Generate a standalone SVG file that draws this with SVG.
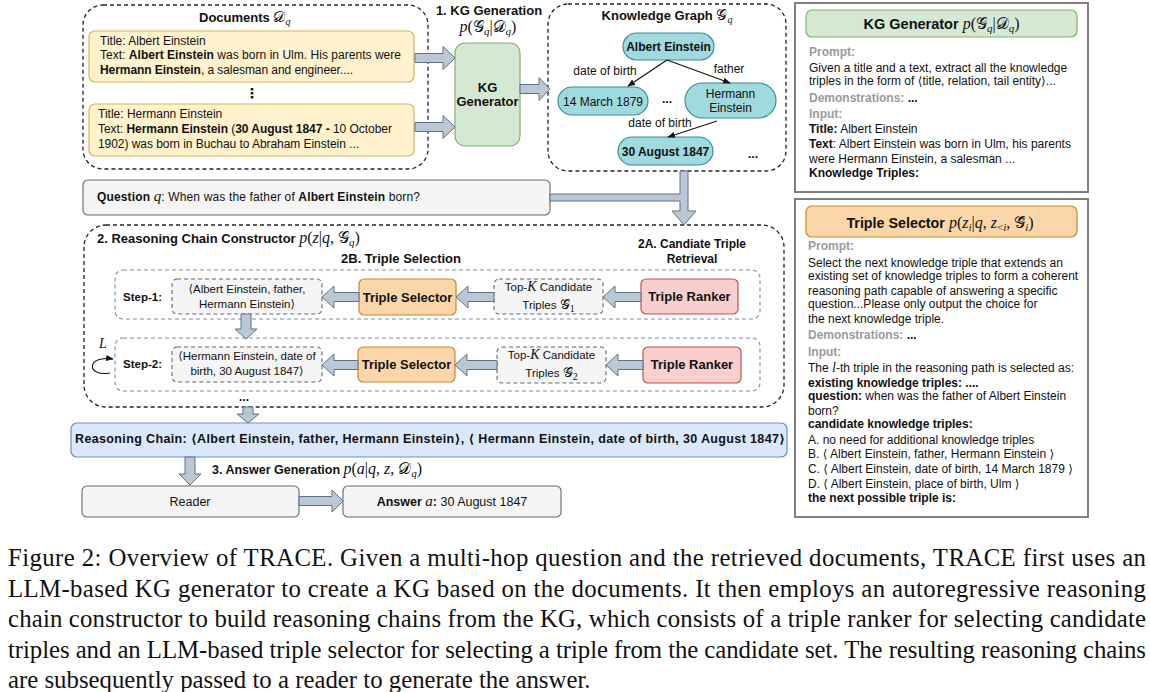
<svg xmlns="http://www.w3.org/2000/svg" width="1150" height="692" viewBox="0 0 1150 692">
<defs>
<style>
text{font-family:"Liberation Sans","DejaVu Sans",Arial,sans-serif;fill:#111}
.b{font-weight:bold}
.m{font-family:"Liberation Serif","DejaVu Serif",serif;font-style:italic;font-weight:normal}
.mr{font-family:"Liberation Serif","DejaVu Serif",serif;font-style:normal;font-weight:normal}
.cal{font-family:"DejaVu Serif","DejaVu Sans",serif;font-style:normal;font-weight:normal}
.g{fill:#9a9a9a;font-weight:bold}
.arrow{fill:#bac8d6;stroke:#5c7389;stroke-width:1}
.dash{fill:none;stroke:#222;stroke-width:1.3;stroke-dasharray:4 3}
.row{fill:none;stroke:#7a8ea6;stroke-width:1.1;stroke-dasharray:4 3}
.doc{fill:#fff2cc;stroke:#d6b656;stroke-width:1.2}
.kgn{fill:#a0d9de;stroke:#3b8e98;stroke-width:1.2}
.grn{fill:#d5e8d4;stroke:#82b366;stroke-width:1.2}
.sel{fill:#fad6a8;stroke:#c8892d;stroke-width:1.2}
.rank{fill:#f8cfcd;stroke:#b9534f;stroke-width:1.2}
.tri{fill:#f5f5f5;stroke:#666;stroke-width:1.1;stroke-dasharray:4 3}
.plain{fill:#f5f5f5;stroke:#666;stroke-width:1.1}
.blue{fill:#dae8fc;stroke:#6c8ebf;stroke-width:1.2}
.panel{fill:#fff;stroke:#7f7f7f;stroke-width:2}
.edge{fill:none;stroke:#111;stroke-width:1.1}
.c{text-anchor:middle}
.t12{font-size:12px}
.p{font-size:12px}
.cap{font-family:"Liberation Serif","Times New Roman",serif;font-size:24.8px}
</style>
<marker id="ah" viewBox="0 0 10 10" refX="9" refY="5" markerWidth="7" markerHeight="7" orient="auto-start-reverse">
<path d="M0,1 L10,5 L0,9 z" fill="#111"/>
</marker>
</defs>

<!-- Documents -->
<g id="documents">
<rect class="dash" x="83" y="5" width="345" height="164" rx="20"/>
<text x="199" y="22" class="b" font-size="13">Documents <tspan class="cal" font-size="15">𝒟</tspan><tspan class="m" font-size="10" dy="3">q</tspan></text>
</g>
<g id="doc1">
<rect class="doc" x="89" y="31" width="325" height="51" rx="6"/>
<text x="100" y="45" class="t12">Title: Albert Einstein</text>
<text x="100" y="59" class="t12" textLength="301">Text:  <tspan class="b">Albert Einstein</tspan> was born in Ulm. His parents were</text>
<text x="100" y="74" class="t12" textLength="253"><tspan class="b">Hermann Einstein</tspan>, a salesman and engineer....</text>
</g>
<text x="252" y="98" class="c b" font-size="14" font-family="DejaVu Sans">⋮</text>
<g id="doc2">
<rect class="doc" x="89" y="104" width="325" height="52" rx="6"/>
<text x="98" y="118" class="t12">Title: Hermann Einstein</text>
<text x="98" y="133" class="t12" textLength="294">Text: <tspan class="b">Hermann Einstein</tspan> (<tspan class="b">30 August 1847 -</tspan> 10 October</text>
<text x="98" y="148" class="t12" textLength="261">1902) was born in Buchau to Abraham Einstein ...</text>
</g>

<!-- KG Generation -->
<text x="489" y="15" class="c b" font-size="13">1. KG Generation</text>
<text x="488" y="32" class="c" font-size="16"><tspan class="m">p</tspan><tspan class="mr">(</tspan><tspan class="cal">𝒢</tspan><tspan class="m" font-size="11" dy="3">q</tspan><tspan class="mr" dy="-3">|</tspan><tspan class="cal">𝒟</tspan><tspan class="m" font-size="11" dy="3">q</tspan><tspan class="mr" dy="-3">)</tspan></text>
<g id="kg-generator">
<rect class="grn" x="455" y="43" width="65" height="103" rx="10"/>
<text x="487.5" y="92" class="c b" font-size="13">KG</text>
<text x="487.5" y="106" class="c b" font-size="13">Generator</text>
</g>

<!-- Knowledge graph -->
<g id="knowledge-graph">
<rect class="dash" x="548" y="4" width="238" height="167" rx="20"/>
<text x="667" y="20" class="c b" font-size="13">Knowledge Graph <tspan class="cal" font-size="15">𝒢</tspan><tspan class="m" font-size="10" dy="3">q</tspan></text>
</g>
<g id="n-albert">
<rect class="kgn" x="623" y="33" width="91" height="27" rx="13.5"/>
<text x="668.5" y="50.5" class="c b t12">Albert Einstein</text>
</g>
<g id="n-march">
<rect class="kgn" x="558" y="87" width="90" height="28" rx="14"/>
<text x="603" y="105.5" class="c t12">14 March 1879</text>
</g>
<g id="n-hermann">
<rect class="kgn" x="685" y="83" width="91" height="35" rx="17.5"/>
<text x="730.5" y="98" class="c t12">Hermann</text>
<text x="730.5" y="112" class="c t12">Einstein</text>
</g>
<g id="n-august">
<rect class="kgn" x="618" y="137" width="95" height="28" rx="14"/>
<text x="665.5" y="155.5" class="c b t12">30 August 1847</text>
</g>
<text x="667" y="103" class="c b t12">...</text>
<text x="753" y="158" class="c b t12">...</text>

<!-- Right panel: KG generator prompt -->
<g id="panel-kg">
<rect class="panel" x="795" y="3" width="293" height="189"/>
<rect class="grn" x="806" y="10" width="271" height="27" rx="6"/>
<text x="941.5" y="29" class="c b" font-size="14.5">KG Generator <tspan class="m" font-size="16">p</tspan><tspan class="mr" font-size="16">(</tspan><tspan class="cal" font-size="16">𝒢</tspan><tspan class="m" font-size="11" dy="3">q</tspan><tspan class="mr" font-size="16" dy="-3">|</tspan><tspan class="cal" font-size="16">𝒟</tspan><tspan class="m" font-size="11" dy="3">q</tspan><tspan class="mr" font-size="16" dy="-3">)</tspan></text>
<text x="809" y="56" class="g p">Prompt:</text>
<text x="809" y="72" class="p">Given a title and a text, extract all the knowledge</text>
<text x="809" y="85" class="p">triples in the form of ⟨title, relation, tail entity⟩...</text>
<text x="809" y="102" class="g p">Demonstrations: <tspan fill="#111">...</tspan></text>
<text x="809" y="118" class="g p">Input:</text>
<text x="809" y="133" class="p"><tspan class="b">Title:</tspan> Albert Einstein</text>
<text x="809" y="148" class="p"><tspan class="b">Text</tspan>: Albert Einstein was born in Ulm, his parents</text>
<text x="809" y="163" class="p">were Hermann Einstein, a salesman ...</text>
<text x="809" y="177" class="p b">Knowledge Triples:</text>
</g>

<!-- Right panel: Triple selector prompt -->
<g id="panel-ts">
<rect class="panel" x="795" y="199" width="293" height="318"/>
<rect class="sel" x="806" y="206" width="271" height="31" rx="6"/>
<text x="940" y="228" class="c b" font-size="14.3">Triple Selector <tspan class="m" font-size="16">p</tspan><tspan class="mr" font-size="16">(</tspan><tspan class="m" font-size="16">z</tspan><tspan class="m" font-size="11" dy="3">i</tspan><tspan class="mr" font-size="16" dy="-3">|</tspan><tspan class="m" font-size="16">q</tspan><tspan class="mr" font-size="16">, </tspan><tspan class="m" font-size="16">z</tspan><tspan class="mr" font-size="11" dy="3">&lt;</tspan><tspan class="m" font-size="11">i</tspan><tspan class="mr" font-size="16" dy="-3">, </tspan><tspan class="cal" font-size="16">𝒢̂</tspan><tspan class="m" font-size="11" dy="3">i</tspan><tspan class="mr" font-size="16" dy="-3">)</tspan></text>
<text x="808" y="250" class="g p">Prompt:</text>
<text x="808" y="267" class="p">Select the next knowledge triple that extends an</text>
<text x="808" y="280" class="p">existing set of knowledge triples to form a coherent</text>
<text x="808" y="295" class="p">reasoning path capable of answering a specific</text>
<text x="808" y="308" class="p">question...Please only output the choice for</text>
<text x="808" y="323" class="p">the next knowledge triple.</text>
<text x="808" y="339" class="g p">Demonstrations: <tspan fill="#111">...</tspan></text>
<text x="808" y="356" class="g p">Input:</text>
<text x="808" y="372" class="p">The <tspan class="m" font-size="14">l</tspan>-th triple in the reasoning path is selected as:</text>
<text x="808" y="387" class="p b">existing knowledge triples: ....</text>
<text x="808" y="400" class="p"><tspan class="b">question:</tspan> when was the father of Albert Einstein</text>
<text x="808" y="415" class="p">born?</text>
<text x="808" y="428" class="p b">candidate knowledge triples:</text>
<text x="808" y="444" class="p">A. no need for additional knowledge triples</text>
<text x="808" y="458" class="p">B. ⟨ Albert Einstein, father, Hermann Einstein ⟩</text>
<text x="808" y="473" class="p">C. ⟨ Albert Einstein, date of birth, 14 March 1879 ⟩</text>
<text x="808" y="488" class="p">D. ⟨ Albert Einstein, place of birth, Ulm ⟩</text>
<text x="808" y="502" class="p b">the next possible triple is:</text>
</g>

<!-- Question -->
<g id="question">
<rect class="plain" x="83" y="180" width="467" height="35" rx="5"/>
<text x="97" y="201" font-size="12" textLength="323"><tspan class="b">Question </tspan><tspan class="m" font-size="15" font-weight="bold">q</tspan>: When was the father of <tspan class="b">Albert Einstein</tspan> born?</text>
</g>

<!-- Reasoning chain constructor -->
<g id="reasoning-chain-constructor">
<rect class="dash" x="84" y="225" width="700" height="182" rx="22"/>
<text x="97" y="243" class="b" font-size="13">2. Reasoning Chain Constructor <tspan class="m" font-size="16">p</tspan><tspan class="mr" font-size="16">(</tspan><tspan class="m" font-size="16">z</tspan><tspan class="mr" font-size="16">|</tspan><tspan class="m" font-size="16">q</tspan><tspan class="mr" font-size="16">, </tspan><tspan class="cal" font-size="16">𝒢</tspan><tspan class="m" font-size="11" dy="3">q</tspan><tspan class="mr" font-size="16" dy="-3">)</tspan></text>
<text x="401" y="263" class="c b" font-size="13">2B. Triple Selection</text>
<text x="692" y="248" class="c b" font-size="12">2A. Candiate Triple</text>
<text x="692" y="263" class="c b" font-size="12">Retrieval</text>
</g>

<g id="step1">
<rect class="row" x="115" y="270" width="645" height="49" rx="8"/>
<text x="123" y="301" class="b" font-size="11.5">Step-1:</text>
</g>
<g id="triple1">
<rect class="tri" x="172" y="279" width="150" height="35" rx="5"/>
<text x="247" y="293" class="c" font-size="11.5">⟨Albert Einstein, father,</text>
<text x="247" y="308" class="c" font-size="11.5">Hermann Einstein⟩</text>
</g>
<g id="selector1">
<rect class="sel" x="359" y="279" width="97" height="36" rx="5"/>
<text x="407.5" y="301.5" class="c b" font-size="13">Triple Selector</text>
</g>
<g id="topk1">
<rect class="tri" x="494" y="279" width="109" height="35" rx="5"/>
<text x="548.5" y="291" class="c" font-size="11.5">Top-<tspan class="m" font-size="14">K</tspan> Candidate</text>
<text x="548.5" y="309" class="c" font-size="11.5">Triples <tspan class="cal" font-size="14">𝒢̂</tspan><tspan class="mr" font-size="10" dy="3">1</tspan></text>
</g>
<g id="ranker1">
<rect class="rank" x="641" y="279" width="97" height="35" rx="5"/>
<text x="689.5" y="301" class="c b" font-size="13">Triple Ranker</text>
</g>

<g id="step2">
<rect class="row" x="115" y="338" width="645" height="53" rx="8"/>
<text x="123" y="368" class="b" font-size="11.5">Step-2:</text>
<text x="99" y="348" class="m" font-size="14">L</text>
</g>
<g id="triple2">
<rect class="tri" x="172" y="347" width="150" height="35" rx="5"/>
<text x="247" y="360" class="c" font-size="11.5">⟨Hermann Einstein, date of</text>
<text x="247" y="375" class="c" font-size="11.5">birth, 30 August 1847⟩</text>
</g>
<g id="selector2">
<rect class="sel" x="358" y="347" width="97" height="35" rx="5"/>
<text x="406.5" y="369" class="c b" font-size="13">Triple Selector</text>
</g>
<g id="topk2">
<rect class="tri" x="497" y="347" width="109" height="36" rx="5"/>
<text x="551.5" y="359" class="c" font-size="11.5">Top-<tspan class="m" font-size="14">K</tspan> Candidate</text>
<text x="551.5" y="377" class="c" font-size="11.5">Triples <tspan class="cal" font-size="14">𝒢̂</tspan><tspan class="mr" font-size="10" dy="3">2</tspan></text>
</g>
<g id="ranker2">
<rect class="rank" x="643" y="347" width="98" height="36" rx="5"/>
<text x="692" y="369" class="c b" font-size="13">Triple Ranker</text>
</g>
<text x="244" y="401" class="c b t12">...</text>

<!-- Reasoning chain -->
<g id="reasoning-chain">
<rect class="blue" x="71" y="423" width="716" height="34" rx="6"/>
<text x="75" y="443" class="b" font-size="12.5" textLength="710">Reasoning Chain: ⟨Albert Einstein, father, Hermann Einstein⟩, ⟨ Hermann Einstein, date of birth, 30 August 1847⟩</text>
</g>
<text x="212" y="474" class="b" font-size="12.5">3. Answer Generation <tspan class="m" font-size="16">p</tspan><tspan class="mr" font-size="16">(</tspan><tspan class="m" font-size="16">a</tspan><tspan class="mr" font-size="16">|</tspan><tspan class="m" font-size="16">q</tspan><tspan class="mr" font-size="16">, </tspan><tspan class="m" font-size="16">z</tspan><tspan class="mr" font-size="16">, </tspan><tspan class="cal" font-size="16">𝒟</tspan><tspan class="m" font-size="11" dy="3">q</tspan><tspan class="mr" font-size="16" dy="-3">)</tspan></text>
<g id="reader">
<rect class="plain" x="82" y="486" width="217" height="31" rx="5"/>
<text x="190" y="506" class="c" font-size="12.5">Reader</text>
</g>
<g id="answer">
<rect class="plain" x="343" y="486" width="218" height="31" rx="5"/>
<text x="452" y="506" class="c" font-size="12.5"><tspan class="b">Answer </tspan><tspan class="m" font-size="15">a</tspan><tspan class="b">:</tspan> 30 August 1847</text>
</g>

<!-- Connectors -->
<g id="connectors">
<polygon class="arrow" points="415,53.5 443,53.5 443,46.5 455,58 443,69.5 443,62.5 415,62.5"/>
<polygon class="arrow" points="415,122.5 443,122.5 443,115.5 455,127 443,138.5 443,131.5 415,131.5"/>
<polygon class="arrow" points="520,84.5 539,84.5 539,77.5 550,89 539,100.5 539,93.5 520,93.5"/>
<polygon class="arrow" points="550,194 680,194 680,171 688,171 688,211 696,211 684,225 672,211 680,211 680,201 550,201"/>
<line x1="667" y1="60" x2="628" y2="86" class="edge" marker-end="url(#ah)"/>
<line x1="667" y1="60" x2="730" y2="83" class="edge" marker-end="url(#ah)"/>
<line x1="717" y1="121" x2="668" y2="137" class="edge" marker-end="url(#ah)"/>
<text x="605" y="75" class="c t12">date of birth</text>
<text x="729" y="73" class="c t12">father</text>
<text x="660" y="127" class="c t12">date of birth</text>
<polygon class="arrow" points="641,292.5 615,292.5 615,286 603,297 615,308 615,301.5 641,301.5"/>
<polygon class="arrow" points="494,292.5 468,292.5 468,286 456,297 468,308 468,301.5 494,301.5"/>
<polygon class="arrow" points="359,292.5 334,292.5 334,286 322,297 334,308 334,301.5 359,301.5"/>
<polygon class="arrow" points="643,360.5 618,360.5 618,354 606,365 618,376 618,369.5 643,369.5"/>
<polygon class="arrow" points="497,360.5 467,360.5 467,354 455,365 467,376 467,369.5 497,369.5"/>
<polygon class="arrow" points="358,360.5 334,360.5 334,354 322,365 334,376 334,369.5 358,369.5"/>
<polygon class="arrow" points="241,314 251,314 251,329 257,329 246,339 235,329 241,329"/>
<polygon class="arrow" points="243,407 253,407 253,414 259,414 248,423 237,414 243,414"/>
<polygon class="arrow" points="185,457 195,457 195,474 201,474 190,485 179,474 185,474"/>
<polygon class="arrow" points="299,496.5 332,496.5 332,490 343,501 332,512 332,505.5 299,505.5"/>
<path d="M 110 373 C 86 377, 86 355, 113 359" class="edge" marker-end="url(#ah)"/>
</g>

<!-- Caption -->
<g id="caption">
<text x="8" y="566" class="cap" textLength="1138">Figure 2: Overview of TRACE. Given a multi-hop question and the retrieved documents, TRACE first uses an</text>
<text x="8" y="596.5" class="cap" textLength="1138">LLM-based KG generator to create a KG based on the documents. It then employs an autoregressive reasoning</text>
<text x="8" y="627" class="cap" textLength="1138">chain constructor to build reasoning chains from the KG, which consists of a triple ranker for selecting candidate</text>
<text x="8" y="657.5" class="cap" textLength="1138">triples and an LLM-based triple selector for selecting a triple from the candidate set. The resulting reasoning chains</text>
<text x="8" y="688" class="cap">are subsequently passed to a reader to generate the answer.</text>
</g>
</svg>
